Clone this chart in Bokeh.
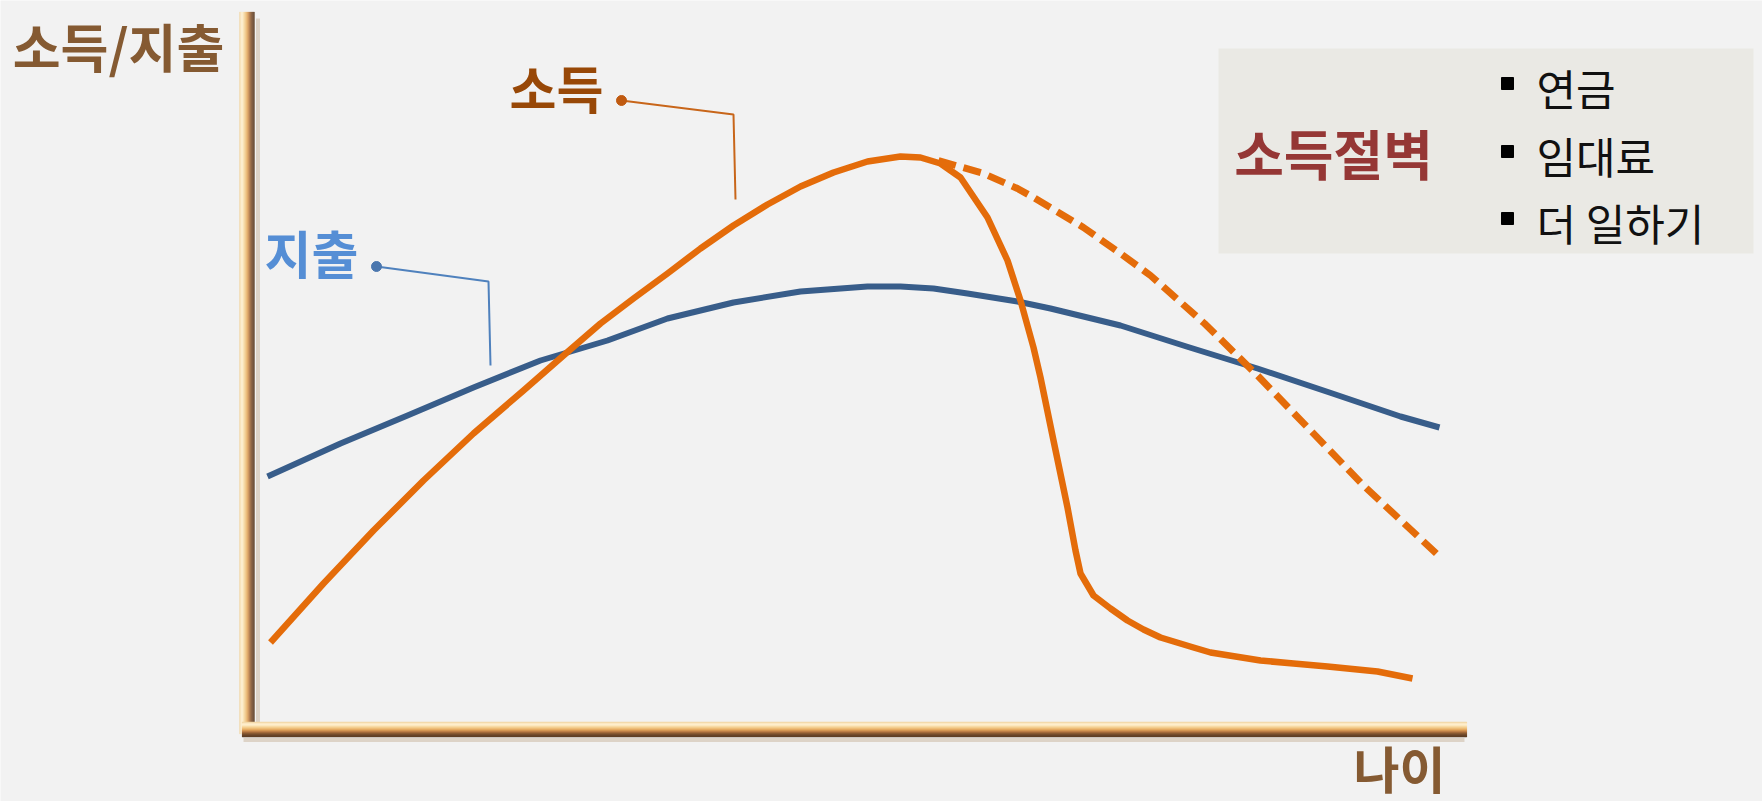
from bokeh.plotting import figure
from bokeh.models import Range1d
from bokeh.embed import file_html
from bokeh.resources import INLINE
from bokeh.core.properties import value

# ---------------- data (arbitrary units: x = age axis, y = amount axis) ----------------
spend_x = [2.3, 9.6, 16.3, 22.9, 29.6, 36.3, 42.3, 48.9, 55.6, 62.3, 65.6, 68.9, 72.3, 77.3,
           80.6, 87.6, 94.2, 101.3, 108.5, 115.6, 119.5]
spend_y = [25.2, 28.5, 31.3, 34.1, 36.8, 38.8, 41.0, 42.6, 43.7, 44.2, 44.2, 44.0, 43.5, 42.7,
           42.0, 40.3, 38.2, 36.0, 33.6, 31.2, 30.1]

income_x = [2.6, 7.9, 12.9, 17.9, 22.9, 27.9, 31.9, 35.6, 38.9, 42.3, 45.6, 48.9, 52.3, 55.6, 58.9,
            62.3, 65.6, 67.6, 69.6, 71.6, 74.3, 76.3, 77.6, 78.9, 79.6, 80.9, 82.3, 83.1, 83.6,
            84.9, 86.6, 88.3, 89.9, 91.6, 94.9, 96.6, 101.6, 104.9, 108.3, 113.3, 116.8]
income_y = [8.6, 14.5, 19.8, 24.8, 29.5, 33.8, 37.3, 40.5, 43.0, 45.5, 48.0, 50.3, 52.4, 54.2, 55.6,
            56.7, 57.2, 57.1, 56.5, 55.1, 51.1, 46.8, 42.8, 38.1, 35.1, 28.8, 22.1, 17.8, 15.5,
            13.3, 12.0, 10.8, 9.9, 9.1, 8.1, 7.6, 6.8, 6.5, 6.2, 5.7, 5.0]

work_x = [69.4, 73.9, 77.3, 78.9, 83.9, 87.6, 90.6, 96.0, 101.3, 106.7, 112.0, 119.4]
work_y = [56.8, 55.5, 54.0, 53.1, 50.1, 47.5, 45.3, 40.5, 35.3, 29.7, 24.2, 17.3]

y_title = "소득/지출"
x_title = "나이"
income_label = "소득"
spend_label = "지출"
box_title = "소득절벽"
remedies = ["연금", "임대료", "더 일하기"]

# ---------------- layout constants ----------------
W, H = 1762, 801
X0, X1 = -24.4, 151.8
Y0, Y1 = -7.3, 72.8
FONT = value("Noto Sans CJK KR")

p = figure(width=W, height=H, x_range=Range1d(X0, X1), y_range=Range1d(Y0, Y1),
           output_backend="svg", toolbar_location=None, min_border=0,
           x_axis_location=None, y_axis_location=None,
           background_fill_color="#F2F2F2", border_fill_color="#F2F2F2",
           outline_line_color=None)
p.grid.visible = False

# ---------------- legend-like box ----------------
p.quad(left=97.4, right=150.9, bottom=47.5, top=68.0, fill_color="#EAE9E4", line_color=None)
p.text(x=[108.9], y=[57.6], text=[box_title], text_font=FONT, text_font_style="bold",
       text_font_size="54px", text_color="#953735", text_align="center", text_baseline="middle")
rem_y = [64.5, 57.7, 51.0]
p.scatter(x=[126.3] * len(remedies), y=rem_y, marker="square", size=12, color="#000000")
p.text(x=[129.2] * len(remedies), y=[v - 0.3 for v in rem_y], text=remedies, text_font=FONT,
       text_font_size="43px", text_color="#111111", text_align="left", text_baseline="middle")

# ---------------- axis tubes ----------------
tube = ["#F1D6A4", "#FBE6BE", "#FEEFCF", "#FDEBC4", "#F9DEAA", "#F5D093", "#F0C27D", "#E8B068",
        "#D99B55", "#C4854A", "#A86E3D", "#8E5C33", "#7A4F2D", "#6A4528", "#5E3E24"]
p.line(x=[1.35, 1.35], y=[71.0, -0.6], line_color="#B89A78", line_alpha=0.35, line_width=4)
p.line(x=[-0.1, 122.0], y=[-1.15, -1.15], line_color="#B89A78", line_alpha=0.35, line_width=4)
for i, c in enumerate(tube):
    p.line(x=[-0.45 + i * 0.1] * 2, y=[71.6, -0.5], line_color=c, line_width=1.3, line_cap="round")
for i, c in enumerate(tube):
    p.line(x=[-0.2, 122.2], y=[0.6 - i * 0.1] * 2, line_color=c, line_width=1.3, line_cap="round")

# ---------------- curves ----------------
p.line(spend_x, spend_y, line_color="#385D8A", line_width=6, line_join="round")
p.line(income_x, income_y, line_color="#E46C0A", line_width=6.5, line_join="round")
p.line(work_x, work_y, line_color="#E46C0A", line_width=7, line_dash="18 8", line_cap="butt")

# ---------------- annotations ----------------
p.line([13.2, 24.4, 24.6], [46.2, 44.7, 36.3], line_color="#4F81BD", line_width=2)
p.scatter([13.2], [46.2], size=10, color="#4A76AE")
p.line([37.7, 48.9, 49.1], [62.8, 61.4, 52.9], line_color="#C8661A", line_width=2)
p.scatter([37.7], [62.8], size=10, color="#C05A10")

p.text(x=[6.7], y=[47.7], text=[spend_label], text_font=FONT, text_font_style="bold",
       text_font_size="51px", text_color="#558ED5", text_align="center", text_baseline="middle")
p.text(x=[31.2], y=[64.2], text=[income_label], text_font=FONT, text_font_style="bold",
       text_font_size="51px", text_color="#984807", text_align="center", text_baseline="middle")
p.text(x=[-12.6], y=[68.3], text=[y_title], text_font=FONT, text_font_style="bold",
       text_font_size="52px", text_color="#855A32", text_align="center", text_baseline="middle")
p.text(x=[115.5], y=[-3.8], text=[x_title], text_font=FONT, text_font_style="bold",
       text_font_size="50px", text_color="#855A32", text_align="center", text_baseline="middle")

open("out.html", "w", encoding="utf-8").write(file_html(p, INLINE))
